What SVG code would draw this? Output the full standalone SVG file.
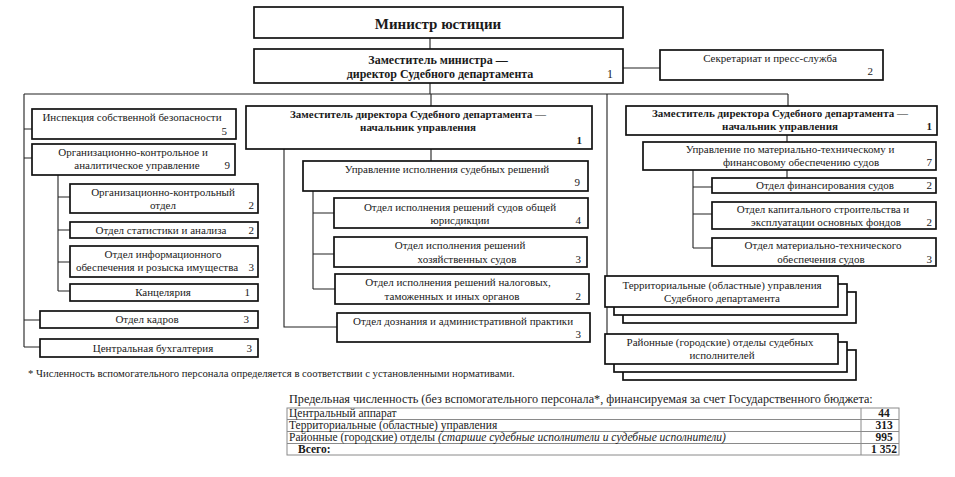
<svg xmlns="http://www.w3.org/2000/svg" width="955" height="477" viewBox="0 0 955 477">
<style>
.box{fill:#fff;stroke:#111;stroke-width:1.7}
.ln{fill:none;stroke:#222;stroke-width:1.1}
.t{font-family:"Liberation Serif","Times New Roman",serif;font-size:11px;fill:#1a1a1a}
.m{text-anchor:middle}
.e{text-anchor:end}
.b{font-weight:bold}
.g{fill:none;stroke:#8a8a8a;stroke-width:1}
</style>
<rect width="955" height="477" fill="#fff"/>
<g id="connectors">
<path class="ln" d="M430,38V49M430,83V94M623,68H660M24,94H788M24,94V347M431,94V106M607,94V334M788,94V106"/>
<path class="ln" d="M24,129H32M24,158H32M24,320H40M24,347H40"/>
<path class="ln" d="M58,175V291M58,197H70M58,230H70M58,262H70M58,291H70"/>
<path class="ln" d="M431,149V161M284,149V327H337M313,191V289M313,213H334M313,254H334M313,289H335"/>
<path class="ln" d="M787,135V142M787,170V178M693,170V248M693,187H712M693,214H712M693,248H712"/>
</g>
<g id="minister"><rect class="box" x="254" y="7" width="369" height="31"/><text class="t m b" x="438" y="29" style="font-size:15px">Министр юстиции</text></g>
<g id="deputy"><rect class="box" x="254" y="49" width="369" height="34"/><text class="t m b" x="438" y="64" style="font-size:12px">Заместитель министра —</text><text class="t m b" x="440" y="78" style="font-size:12px">директор Судебного департамента</text><text class="t e" x="613" y="78" style="font-size:12px">1</text></g>
<g id="secretariat"><rect class="box" x="660" y="50" width="223" height="30"/><text class="t m" x="770" y="62">Секретариат и пресс-служба</text><text class="t e" x="873" y="75">2</text></g>
<g id="inspection"><rect class="box" x="32" y="109" width="204" height="30"/><text class="t m" x="132" y="121">Инспекция собственной безопасности</text><text class="t e" x="227" y="135">5</text></g>
<g id="org-upr"><rect class="box" x="32" y="144" width="203" height="31"/><text class="t m" x="133" y="156">Организационно-контрольное и</text><text class="t m" x="137" y="169">аналитическое управление</text><text class="t e" x="230" y="169">9</text></g>
<g id="org-otdel"><rect class="box" x="70" y="184" width="188" height="29"/><text class="t m" x="163" y="196">Организационно-контрольный</text><text class="t m" x="163" y="209">отдел</text><text class="t e" x="254" y="209">2</text></g>
<g id="stat"><rect class="box" x="70" y="222" width="188" height="16"/><text class="t m" x="161" y="234">Отдел статистики и анализа</text><text class="t e" x="254" y="234">2</text></g>
<g id="info"><rect class="box" x="70" y="246" width="188" height="31"/><text class="t m" x="163" y="258">Отдел информационного</text><text class="t m" x="157" y="271">обеспечения и розыска имущества</text><text class="t e" x="254" y="271">3</text></g>
<g id="kanc"><rect class="box" x="70" y="284" width="188" height="17"/><text class="t m" x="163" y="296">Канцелярия</text><text class="t e" x="250" y="296">1</text></g>
<g id="kadry"><rect class="box" x="40" y="311" width="218" height="17"/><text class="t m" x="147" y="323">Отдел кадров</text><text class="t e" x="249" y="323">3</text></g>
<g id="buh"><rect class="box" x="40" y="339" width="218" height="18"/><text class="t m" x="153" y="352">Центральная бухгалтерия</text><text class="t e" x="252" y="352">3</text></g>
<g id="mid-deputy"><rect class="box" x="246" y="106" width="346" height="43"/><text class="t m b" x="418" y="118">Заместитель директора Судебного департамента —</text><text class="t m b" x="418" y="131">начальник управления</text><text class="t e b" x="582" y="144">1</text></g>
<g id="uisr"><rect class="box" x="303" y="161" width="285" height="30"/><text class="t m" x="447" y="173">Управление исполнения судебных решений</text><text class="t e" x="580" y="186">9</text></g>
<g id="obsh"><rect class="box" x="334" y="198" width="254" height="30"/><text class="t m" x="460" y="211">Отдел исполнения решений судов общей</text><text class="t m" x="460" y="224">юрисдикции</text><text class="t e" x="581" y="224">4</text></g>
<g id="hoz"><rect class="box" x="334" y="237" width="253" height="30"/><text class="t m" x="460" y="249">Отдел исполнения решений</text><text class="t m" x="467" y="263">хозяйственных судов</text><text class="t e" x="581" y="263">3</text></g>
<g id="nalog"><rect class="box" x="335" y="274" width="254" height="30"/><text class="t m" x="458" y="286">Отдел исполнения решений налоговых,</text><text class="t m" x="452" y="300">таможенных и иных органов</text><text class="t e" x="581" y="300">2</text></g>
<g id="doznanie"><rect class="box" x="337" y="313" width="253" height="29"/><text class="t m" x="463" y="325">Отдел дознания и административной практики</text><text class="t e" x="581" y="338">3</text></g>
<g id="right-deputy"><rect class="box" x="626" y="106" width="311" height="29"/><text class="t m b" x="780" y="117">Заместитель директора Судебного департамента —</text><text class="t m b" x="780" y="130">начальник управления</text><text class="t e b" x="932" y="130">1</text></g>
<g id="umto"><rect class="box" x="643" y="142" width="293" height="28"/><text class="t m" x="790" y="153">Управление по материально-техническому и</text><text class="t m" x="801" y="166">финансовому обеспечению судов</text><text class="t e" x="932" y="166">7</text></g>
<g id="fin"><rect class="box" x="712" y="178" width="224" height="15"/><text class="t m" x="825" y="189">Отдел финансирования судов</text><text class="t e" x="932" y="189">2</text></g>
<g id="kap"><rect class="box" x="712" y="202" width="224" height="27"/><text class="t m" x="823" y="213">Отдел капитального строительства и</text><text class="t m" x="826" y="226">эксплуатации основных фондов</text><text class="t e" x="932" y="226">2</text></g>
<g id="mat"><rect class="box" x="712" y="238" width="224" height="28"/><text class="t m" x="823" y="249">Отдел материально-технического</text><text class="t m" x="821" y="263">обеспечения судов</text><text class="t e" x="932" y="263">3</text></g>
<g id="territorial"><rect class="box" x="623" y="292" width="233" height="31"/><rect class="box" x="614" y="284" width="233" height="31"/><rect class="box" x="605" y="276" width="233" height="31"/><text class="t m" x="722" y="289">Территориальные (областные) управления</text><text class="t m" x="722" y="302">Судебного департамента</text></g>
<g id="district"><rect class="box" x="623" y="350" width="233" height="30"/><rect class="box" x="614" y="342" width="233" height="30"/><rect class="box" x="605" y="334" width="233" height="30"/><text class="t m" x="720" y="346">Районные (городские) отделы судебных</text><text class="t m" x="722" y="359">исполнителей</text></g>
<text class="t" x="28" y="377" style="font-size:10.7px">* Численность вспомогательного персонала определяется в соответствии с установленными нормативами.</text>
<g id="table">
<text class="t" x="289" y="403" style="font-size:12.2px">Предельная численность (без вспомогательного персонала*, финансируемая за счет Государственного бюджета:</text>
<rect class="g" x="287" y="408" width="612" height="47"/>
<path class="g" d="M287,419.5H899M287,431.5H899M287,443.5H899M861,408V455"/>
<text class="t" x="289" y="417" style="font-size:11.5px">Центральный аппарат</text>
<text class="t" x="289" y="429" style="font-size:11.5px">Территориальные (областные) управления</text>
<text class="t" x="289" y="441" style="font-size:11.5px">Районные (городские) отделы <tspan font-style="italic">(старшие судебные исполнители и судебные исполнители)</tspan></text>
<text class="t b" x="298" y="453" style="font-size:11.5px">Всего:</text>
<text class="t m b" x="884" y="417" style="font-size:11.5px">44</text>
<text class="t m b" x="884" y="429" style="font-size:11.5px">313</text>
<text class="t m b" x="884" y="441" style="font-size:11.5px">995</text>
<text class="t m b" x="884" y="453" style="font-size:11.5px">1 352</text>
</g>
</svg>
